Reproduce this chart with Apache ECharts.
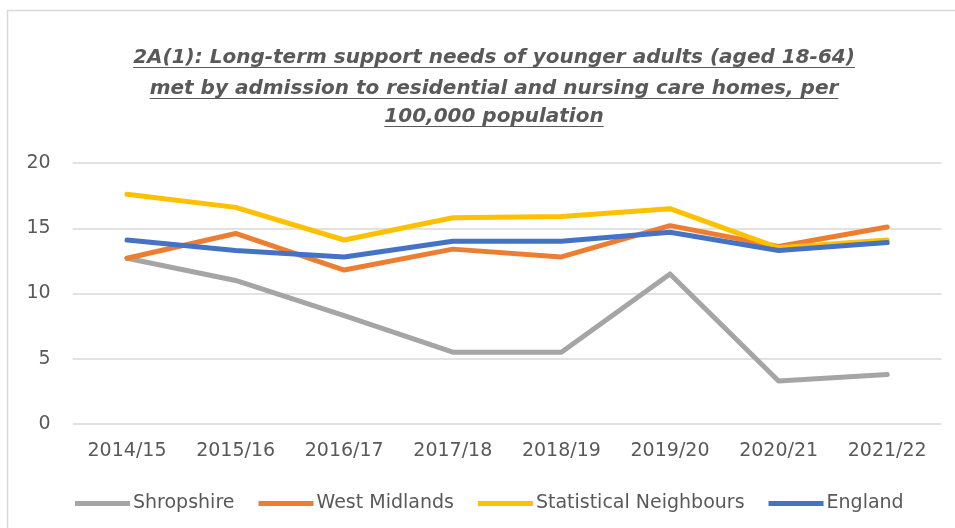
<!DOCTYPE html>
<html>
<head>
<meta charset="utf-8">
<script src="https://cdn.jsdelivr.net/npm/echarts@6/dist/echarts.min.js"></script>
<style>
html,body{margin:0;padding:0;background:#fff;}
#chart{width:955px;height:528px;}
</style>
</head>
<body>
<div id="chart"></div>
<script>
var categories = ['2014/15','2015/16','2016/17','2017/18','2018/19','2019/20','2020/21','2021/22'];
var shropshire = [12.7, 11.0, 8.3, 5.5, 5.5, 11.5, 3.3, 3.8];
var westMidlands = [12.7, 14.6, 11.8, 13.4, 12.8, 15.2, 13.6, 15.1];
var statNeighbours = [17.6, 16.6, 14.1, 15.8, 15.9, 16.5, 13.5, 14.1];
var england = [14.1, 13.3, 12.8, 14.0, 14.0, 14.7, 13.3, 13.9];
var yTicks = [0, 5, 10, 15, 20];
var titleLines = [
  '2A(1): Long-term support needs of younger adults (aged 18-64)',
  'met by admission to residential and nursing care homes, per',
  '100,000 population'
];

var titleFont = 'italic bold 20px "DejaVu Sans"';
var cnv = document.createElement('canvas').getContext('2d');
cnv.font = titleFont;
var titleCenter = 494;
var titleMid = [58, 89, 117];
var underlineY = [67.5, 98.5, 126.5];

var graphics = [{
  type: 'rect', silent: true, z: -10,
  shape: {x: 7.5, y: 10.5, width: 2000, height: 2000},
  style: {fill: null, stroke: '#d9d9d9', lineWidth: 1.5}
}];
titleLines.forEach(function (t, i) {
  var w = cnv.measureText(t).width;
  graphics.push({
    type: 'text', silent: true,
    x: titleCenter, y: titleMid[i],
    style: {text: t, font: titleFont, fill: '#595959', align: 'center', verticalAlign: 'middle'}
  });
  graphics.push({
    type: 'line', silent: true,
    shape: {x1: titleCenter - w / 2, y1: underlineY[i], x2: titleCenter + w / 2, y2: underlineY[i]},
    style: {stroke: '#595959', lineWidth: 1.2}
  });
});

function mk(name, data, color) {
  return {
    name: name, type: 'line', data: data, symbol: 'none',
    lineStyle: {color: color, width: 5, cap: 'round', join: 'round'},
    itemStyle: {color: color},
    emphasis: {disabled: true}
  };
}

var chart = echarts.init(document.getElementById('chart'));
chart.setOption({
  animation: false,
  backgroundColor: '#ffffff',
  graphic: graphics,
  grid: {left: 72.7, right: 13.5, top: 163, bottom: 104, containLabel: false},
  legend: {
    left: 70, top: 489,
    icon: 'rect', itemWidth: 55, itemHeight: 5, itemGap: 24,
    textStyle: {fontFamily: 'DejaVu Sans', fontSize: 19, color: '#595959', padding: [0, 0, 0, -2]},
    data: ['Shropshire', 'West Midlands', 'Statistical Neighbours', 'England']
  },
  xAxis: {
    type: 'category', data: categories, boundaryGap: true,
    axisLine: {show: false}, axisTick: {show: false},
    axisLabel: {fontFamily: 'DejaVu Sans', fontSize: 19, color: '#595959', margin: 18}
  },
  yAxis: {
    type: 'value', min: yTicks[0], max: yTicks[yTicks.length - 1], interval: 5,
    axisLine: {show: false}, axisTick: {show: false},
    axisLabel: {fontFamily: 'DejaVu Sans', fontSize: 19, color: '#595959', margin: 22},
    splitLine: {lineStyle: {color: '#d9d9d9', width: 1.5}}
  },
  series: [
    mk('Shropshire', shropshire, '#A5A5A5'),
    mk('West Midlands', westMidlands, '#ED7D31'),
    mk('Statistical Neighbours', statNeighbours, '#FFC000'),
    mk('England', england, '#4472C4')
  ]
});
</script>
</body>
</html>
